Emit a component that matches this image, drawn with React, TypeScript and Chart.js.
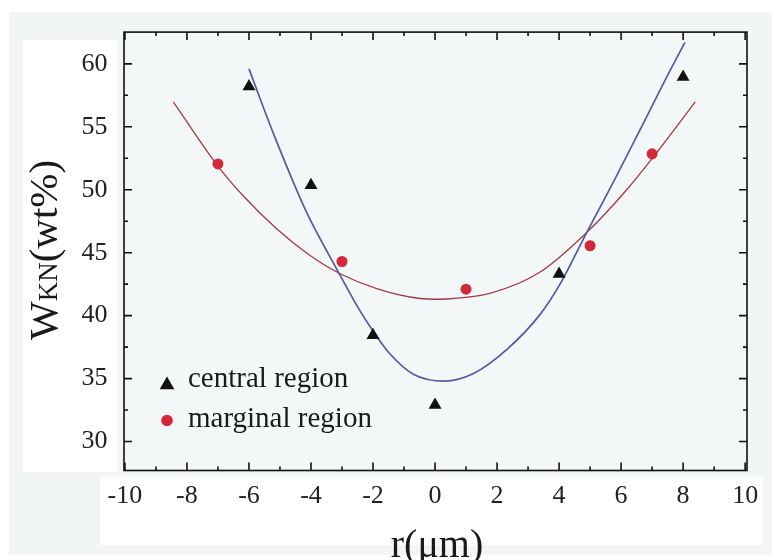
import React, { useEffect, useRef } from "react";
import { Chart, registerables } from "chart.js";

Chart.register(...registerables);

// ---- data ----
const centralX = [-6, -4, -2, 0, 4, 8];
const centralY = [58.2, 50.35, 38.45, 32.9, 43.3, 58.95];

const marginalX = [-7, -3, 1, 5, 7];
const marginalY = [52.05, 44.3, 42.1, 45.55, 52.85];

const centralFitX = [-6.0, -5.2, -4.14, -3.17, -2.53, -1.99, -1.45, -0.7, 0.3, 1.24, 2.31, 3.39, 4.03, 4.89, 5.75, 6.61, 7.47, 8.06];
const centralFitY = [59.6, 54.4, 48.2, 43.7, 40.84, 38.74, 36.95, 35.35, 34.8, 35.4, 37.3, 40.1, 42.5, 46.6, 50.6, 54.75, 58.95, 61.7];

const marginalFitX = [-8.44, -7.04, -6.18, -5.1, -4.03, -3.06, -1.88, -0.48, 0.16, 0.59, 1.77, 3.39, 4.89, 6.18, 7.26, 8.39];
const marginalFitY = [56.98, 52.0, 49.5, 46.88, 44.78, 43.33, 42.15, 41.36, 41.3, 41.36, 41.76, 43.46, 46.6, 50.0, 53.3, 56.98];

const xTicks = [-10, -8, -6, -4, -2, 0, 2, 4, 6, 8, 10];
const xMinorTicks = [-9, -7, -5, -3, -1, 1, 3, 5, 7, 9];
const yTicks = [30, 35, 40, 45, 50, 55, 60];
const yMinorTicks = [32.5, 37.5, 42.5, 47.5, 52.5, 57.5];

const legendLabels = ["central region", "marginal region"];
const yTitleMain = "W";
const yTitleSub = "KN";
const yTitleRest = "(wt%)";
const xTitle = "r(\u03bcm)";

const SERIF = "'Liberation Serif', 'Times New Roman', serif";
const TRI = "#111111";
const RED = "#d3283a";
const BLUE = "#5659a3";
const REDLINE = "#a23a45";

function zip(xs: number[], ys: number[]) {
  return xs.map((x, i) => ({ x, y: ys[i] }));
}

function triangle(ctx: CanvasRenderingContext2D, x: number, y: number, r: number) {
  ctx.beginPath();
  ctx.moveTo(x, y - r);
  ctx.lineTo(x + r * Math.sin((2 * Math.PI) / 3), y - r * Math.cos((2 * Math.PI) / 3));
  ctx.lineTo(x + r * Math.sin((4 * Math.PI) / 3), y - r * Math.cos((4 * Math.PI) / 3));
  ctx.closePath();
  ctx.fill();
}

const decor = {
  id: "decor",
  beforeDraw(chart: any) {
    const { ctx, chartArea: a } = chart;
    ctx.save();
    ctx.fillStyle = "#ffffff";
    ctx.fillRect(0, 0, 772, 560);
    ctx.fillStyle = "#f2f5f5";
    ctx.fillRect(9, 12, 763, 543);
    ctx.fillStyle = "#ffffff";
    ctx.fillRect(23, 40, 94, 432);
    ctx.fillRect(100, 477, 663, 68);
    ctx.fillStyle = "#f4f7f7";
    ctx.fillRect(a.left, a.top, a.right - a.left, a.bottom - a.top);
    ctx.restore();
  },
  afterDraw(chart: any) {
    const { ctx, chartArea: a } = chart;
    const xs = chart.scales.x;
    const ys = chart.scales.y;
    ctx.save();
    ctx.strokeStyle = "#111111";
    ctx.lineWidth = 1.6;
    const major = 8;
    const minor = 4;
    ctx.beginPath();
    xTicks.forEach((v) => {
      const p = xs.getPixelForValue(v);
      ctx.moveTo(p, a.bottom);
      ctx.lineTo(p, a.bottom - major);
      ctx.moveTo(p, a.top);
      ctx.lineTo(p, a.top + major);
    });
    xMinorTicks.forEach((v) => {
      const p = xs.getPixelForValue(v);
      ctx.moveTo(p, a.bottom);
      ctx.lineTo(p, a.bottom - minor);
      ctx.moveTo(p, a.top);
      ctx.lineTo(p, a.top + minor);
    });
    yTicks.forEach((v) => {
      const p = ys.getPixelForValue(v);
      ctx.moveTo(a.left, p);
      ctx.lineTo(a.left + major, p);
      ctx.moveTo(a.right, p);
      ctx.lineTo(a.right - major, p);
    });
    yMinorTicks.forEach((v) => {
      const p = ys.getPixelForValue(v);
      ctx.moveTo(a.left, p);
      ctx.lineTo(a.left + minor, p);
      ctx.moveTo(a.right, p);
      ctx.lineTo(a.right - minor, p);
    });
    ctx.stroke();
    ctx.strokeRect(a.left, a.top, a.right - a.left, a.bottom - a.top);

    // legend
    ctx.fillStyle = TRI;
    triangle(ctx, 167, 385, 8.5);
    ctx.fillStyle = RED;
    ctx.beginPath();
    ctx.arc(167, 420.5, 5.8, 0, Math.PI * 2);
    ctx.fill();
    ctx.fillStyle = "#1a1a1a";
    ctx.font = `29px ${SERIF}`;
    ctx.textAlign = "left";
    ctx.textBaseline = "alphabetic";
    ctx.fillText(legendLabels[0], 188, 387);
    ctx.fillText(legendLabels[1], 188, 427);

    // x title
    ctx.font = `40px ${SERIF}`;
    ctx.textAlign = "center";
    ctx.fillText(xTitle, 437, 557);

    // y title (rotated, with small-caps subscript)
    ctx.translate(57, 340);
    ctx.rotate(-Math.PI / 2);
    ctx.textAlign = "left";
    ctx.font = `41px ${SERIF}`;
    ctx.fillText(yTitleMain, 0, 0);
    let w = ctx.measureText(yTitleMain).width;
    ctx.font = `27px ${SERIF}`;
    ctx.fillText(yTitleSub, w, 0);
    w += ctx.measureText(yTitleSub).width;
    ctx.font = `41px ${SERIF}`;
    ctx.fillText(yTitleRest, w, 0);
    ctx.restore();
  },
};

export default function App() {
  const ref = useRef<HTMLCanvasElement | null>(null);
  useEffect(() => {
    document.body.style.margin = "0";
    if (!ref.current) return;
    const chart = new Chart(ref.current, {
      type: "scatter",
      data: {
        datasets: [
          {
            label: legendLabels[0],
            data: zip(centralX, centralY),
            pointStyle: "triangle",
            pointRadius: 7.5,
            backgroundColor: TRI,
            borderColor: TRI,
            borderWidth: 0,
          },
          {
            label: legendLabels[1],
            data: zip(marginalX, marginalY),
            pointStyle: "circle",
            pointRadius: 5.5,
            backgroundColor: RED,
            borderColor: RED,
            borderWidth: 0,
          },
          {
            label: "central fit",
            data: zip(centralFitX, centralFitY),
            showLine: true,
            pointRadius: 0,
            borderColor: BLUE,
            borderWidth: 1.7,
            cubicInterpolationMode: "monotone",
          },
          {
            label: "marginal fit",
            data: zip(marginalFitX, marginalFitY),
            showLine: true,
            pointRadius: 0,
            borderColor: REDLINE,
            borderWidth: 1.3,
            cubicInterpolationMode: "monotone",
          },
        ],
      },
      options: {
        responsive: false,
        animation: false,
        devicePixelRatio: 1,
        layout: { padding: { left: 0, right: 25, top: 28, bottom: 0 } },
        plugins: { legend: { display: false }, tooltip: { enabled: false } },
        scales: {
          x: {
            type: "linear",
            min: -10.03,
            max: 10.06,
            grid: { display: false, drawTicks: false },
            border: { display: false },
            afterFit: (s: any) => {
              s.height = 89.5;
            },
            afterBuildTicks: (s: any) => {
              s.ticks = xTicks.map((v) => ({ value: v }));
            },
            ticks: {
              padding: 10,
              color: "#222222",
              font: { family: SERIF, size: 26 },
              maxRotation: 0,
              autoSkip: false,
            },
          },
          y: {
            type: "linear",
            min: 27.7,
            max: 62.52,
            grid: { display: false, drawTicks: false },
            border: { display: false },
            afterFit: (s: any) => {
              s.width = 124;
            },
            afterBuildTicks: (s: any) => {
              s.ticks = yTicks.map((v) => ({ value: v }));
            },
            ticks: {
              padding: 16.5,
              color: "#222222",
              font: { family: SERIF, size: 26 },
              autoSkip: false,
            },
          },
        },
      },
      plugins: [decor],
    });
    return () => chart.destroy();
  }, []);
  return (
    <div style={{ position: "absolute", left: 0, top: 0 }}>
      <canvas ref={ref} width={772} height={560} style={{ display: "block" }} />
    </div>
  );
}
